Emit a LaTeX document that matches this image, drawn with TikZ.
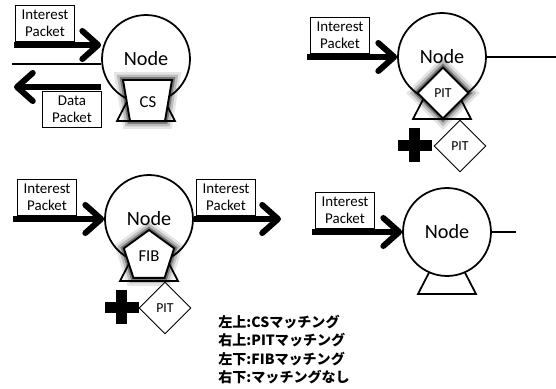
\documentclass[tikz,border=0pt]{standalone}
\usepackage{fontspec}
\setmainfont{Carlito}
\newfontfamily\jpfont{Noto Sans CJK JP}
\usetikzlibrary{arrows.meta,calc,shapes.geometric,positioning}

\begin{document}
\begin{tikzpicture}[x=0.02cm,y=-0.02cm,
  router/.style={draw,circle,fill=white,line width=1pt,minimum size=1.76cm,inner sep=0pt,font=\fontsize{11.5}{12}\selectfont},
  pkt/.style={draw,line width=0.6pt,fill=white,align=center,minimum width=1.18cm,minimum height=0.72cm,inner sep=0pt,font=\fontsize{8.5}{9.5}\selectfont},
  flow/.style={line width=3.4pt,-{Straight Barb[length=9pt,width=16pt,round]}},
  wire/.style={line width=1.1pt},
  glow/.style={fill=white,line width=1.1pt,
    preaction={draw=black,draw opacity=0.1,line width=9pt},
    preaction={draw=black,draw opacity=0.18,line width=6pt},
    preaction={draw=black,draw opacity=0.35,line width=3.2pt}},
  pit/.style={draw,diamond,fill=white,inner sep=0pt,minimum size=1.04cm,font=\fontsize{7.8}{8}\selectfont},
]
\useasboundingbox (0,0) rectangle (556,389);
\def\stand#1{\draw[line width=1pt,fill=white] ($(#1)+(-12.5,30)$) -- ($(#1)+(12.5,30)$) -- ($(#1)+(29,62)$) -- ($(#1)+(-29,62)$) -- cycle;}
\def\plus#1{\fill ($(#1)+(-17,-5.5)$) rectangle ($(#1)+(17,5.5)$); \fill ($(#1)+(-5.5,-17)$) rectangle ($(#1)+(5.5,17)$);}

\coordinate (c1) at (146,59);
\stand{c1}
\node[router] (n1) at (c1) {Node};
\draw[glow] ($(c1)+(-23,21)$) -- ($(c1)+(26,21)$) -- ($(c1)+(19,62)$) -- ($(c1)+(-16,62)$) -- cycle;
\node[font=\fontsize{9.5}{10}\selectfont] (cs) at ($(c1)+(2,43)$) {CS};
\coordinate (i1) at (14,45);
\coordinate (w1) at (12,64);
\coordinate (d1) at (14,87);
\draw[flow] (i1) -- (i1 -| n1.west);
\draw[wire] (w1) -- (w1 -| n1.west);
\draw[flow] (d1 -| n1.west) -- (d1);
\node[pkt,anchor=south] (ip1) at (45,42) {Interest\\Packet};
\node[pkt,anchor=north] (dp1) at (72,91) {Data\\Packet};

\coordinate (c2) at (442,57);
\stand{c2}
\node[router] (n2) at (c2) {Node};
\node[pit,glow] (pit2) at ($(c2)+(1,36)$) {PIT};
\coordinate (i2) at (307,57);
\coordinate (e2) at (556,57);
\draw[flow] (i2) -- (n2.west);
\draw[wire] (n2.east) -- (e2);
\node[pkt,anchor=south] (ip2) at (340,54) {Interest\\Packet};
\coordinate (p2) at (415,145);
\plus{p2}
\node[pit,line width=0.5pt] (pit2b) at (460,146) {PIT};

\coordinate (c3) at (149,219);
\stand{c3}
\node[router] (n3) at (c3) {Node};
\node[glow,draw,regular polygon,regular polygon sides=5,minimum size=1.06cm,inner sep=0pt,font=\fontsize{9.5}{10}\selectfont] (fib3) at ($(c3)+(0,37.5)$) {FIB};
\coordinate (i3) at (13,219);
\coordinate (o3) at (281,219);
\draw[flow] (i3) -- (n3.west);
\draw[flow] (n3.east) -- (o3);
\node[pkt,anchor=south] (ip3) at (47,216) {Interest\\Packet};
\node[pkt,anchor=south] (op3) at (226,216) {Interest\\Packet};
\coordinate (p3) at (122,307);
\plus{p3}
\node[pit,line width=0.5pt] (pit3) at (165,308) {PIT};

\coordinate (c4) at (447,232);
\stand{c4}
\node[router] (n4) at (c4) {Node};
\coordinate (i4) at (312,232);
\coordinate (e4) at (516,232);
\draw[flow] (i4) -- (n4.west);
\draw[wire] (n4.east) -- (e4);
\node[pkt,anchor=south] (ip4) at (345,229) {Interest\\Packet};

\node[anchor=north west,align=left,inner sep=0pt,font=\jpfont\bfseries\fontsize{8}{10.4}\selectfont] (legend) at (218,315) {左上:CSマッチング\\右上:PITマッチング\\左下:FIBマッチング\\右下:マッチングなし};
\end{tikzpicture}
\end{document}
